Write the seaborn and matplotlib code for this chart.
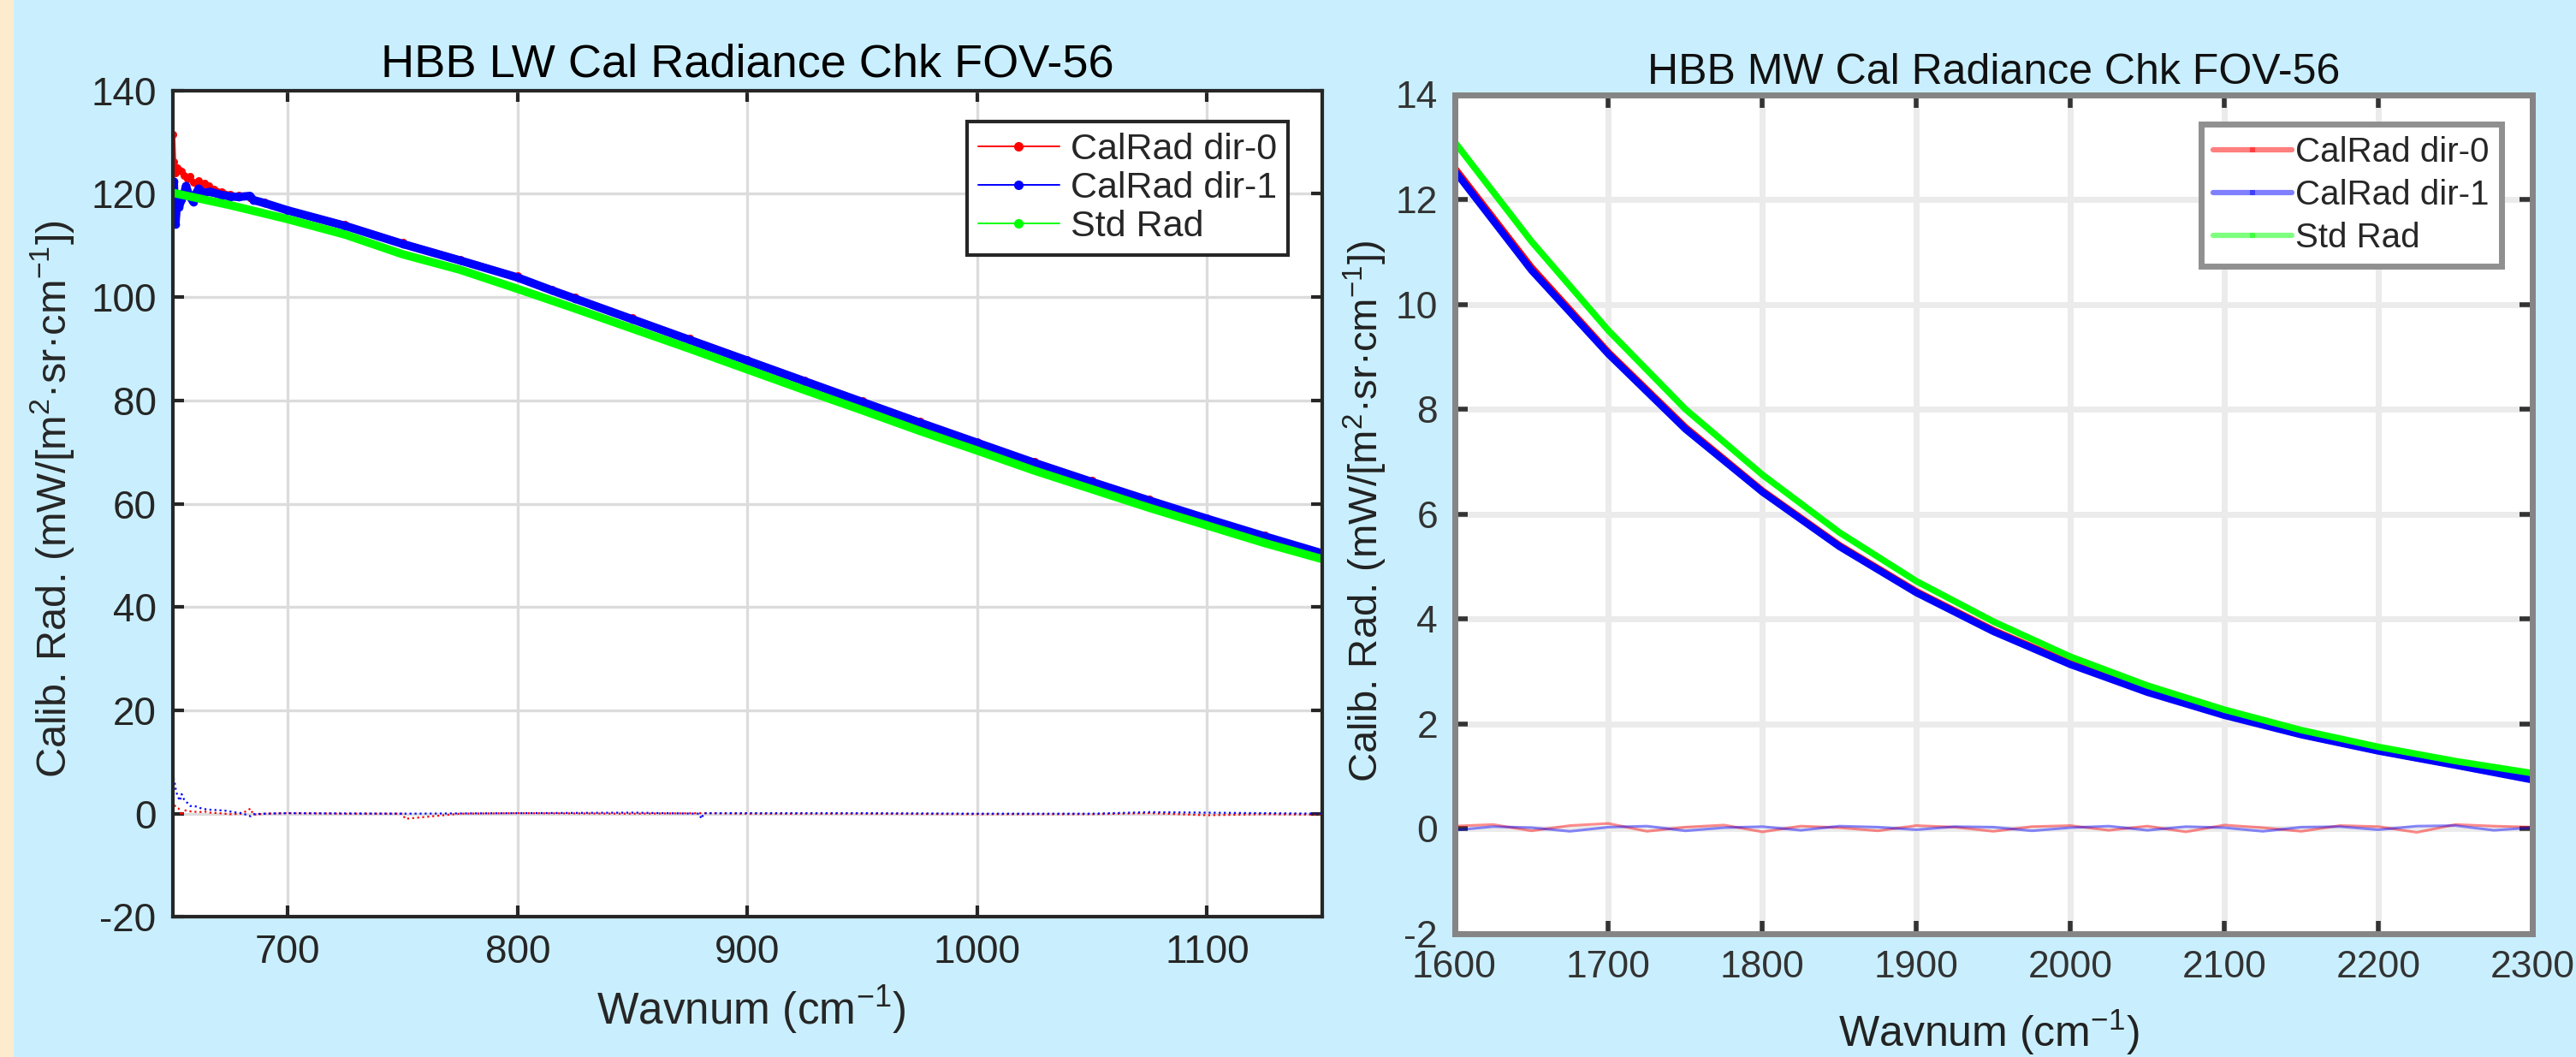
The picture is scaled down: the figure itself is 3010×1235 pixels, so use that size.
import numpy as np
import pandas as pd
import matplotlib
matplotlib.use("Agg")
import matplotlib.pyplot as plt
from matplotlib.lines import Line2D
from matplotlib.patches import Rectangle
import seaborn as sns

# ---------------- data ----------------
# LW band
lw_red_wn = [650.0, 650.4, 651.1, 652.0, 653.0, 653.8, 655.0, 656.3, 657.5, 658.8, 660.0, 661.3,
             662.5, 663.7, 665.6, 668.0, 671.1, 675.0, 678.5, 683.5, 690, 700, 725, 750, 775, 800,
             815, 825, 850, 875, 900, 925, 950, 975, 1000, 1025, 1050, 1075, 1100, 1125, 1150]
lw_red = [131.5, 126.2, 124.0, 125.0, 124.5, 124.4, 123.5, 122.9, 123.4, 122.2, 122.1, 122.6,
          121.6, 122.1, 121.5, 120.9, 120.4, 119.9, 119.7, 119.3, 118.4, 117.0, 114.1, 110.6, 107.4,
          104.1, 101.6, 100.0, 96.0, 92.0, 88.0, 84.0, 80.0, 76.0, 72.1, 68.2, 64.5, 60.9, 57.3,
          53.9, 50.6]

lw_blue_wn = [650.0, 650.4, 651.1, 652.0, 652.6, 653.8, 655.0, 655.7, 657.0, 658.8, 660.0, 661.2,
              663.0, 666.2, 671.1, 675.0, 678.5, 683.5, 685.0, 690, 700, 725, 750, 775, 800, 815,
              825, 850, 875, 900, 925, 950, 975, 1000, 1025, 1050, 1075, 1100, 1125, 1150]
lw_blue = [121.0, 122.4, 114.1, 119.5, 117.4, 119.0, 120.2, 121.5, 119.8, 118.5, 120.0, 121.0,
           120.2, 120.4, 119.8, 119.5, 119.4, 119.6, 118.8, 118.2, 116.8, 113.8, 110.3, 107.1,
           103.8, 101.3, 99.7, 95.7, 91.7, 87.7, 83.7, 79.7, 75.7, 71.8, 67.9, 64.2, 60.6, 57.1,
           53.7, 50.4]

lw_std_wn = [650, 675, 700, 725, 750, 775, 800, 825, 850, 875, 900, 925, 950, 975, 1000, 1025,
             1050, 1075, 1100, 1125, 1150]
lw_std = [120.2, 117.8, 115.1, 112.1, 108.3, 105.3, 101.6, 97.8, 93.9, 90.0, 86.0, 82.0, 78.1,
          74.1, 70.3, 66.4, 62.8, 59.2, 55.8, 52.4, 49.3]

lw_res0_wn = [650.0, 650.6, 651.3, 652.5, 653.8, 655.0, 656.3, 658.8, 661.3, 663.8, 666.3, 670,
              675, 680, 683.8, 685, 690, 700, 725, 750, 751, 775, 800, 850, 880, 900, 950, 1000,
              1050, 1075, 1100, 1125, 1150]
lw_res0 = [2.6, 1.8, 1.2, 1.0, -0.4, 0.7, 0.5, 0.4, 0.3, 0.4, 0.2, 0.1, -0.1, 0.0, 1.0, -0.2, 0.0,
           0.1, 0.0, 0.0, -1.0, 0.0, 0.1, 0.0, 0.1, 0.0, 0.0, -0.1, -0.1, 0.1, -0.3, -0.1, -0.2]

lw_res1_wn = [650.0, 650.3, 650.7, 651.0, 651.3, 651.9, 652.5, 653.1, 653.8, 655.0, 656.3, 657.5,
              660.0, 662.5, 665.0, 668.8, 672.5, 676.3, 680.0, 682.5, 683.8, 685, 690, 700, 750,
              800, 850, 879, 880, 881, 900, 950, 1000, 1050, 1075, 1100, 1125, 1150]
lw_res1 = [2.0, 6.9, 6.2, 5.4, 4.6, 3.6, 3.0, 2.5, 3.8, 2.6, 2.1, 1.5, 1.4, 1.0, 0.8, 0.7, 0.6,
           0.3, 0.1, -0.3, -0.5, -0.1, 0.0, 0.1, 0.0, 0.1, 0.2, 0.0, -1.0, 0.1, 0.1, 0.1, 0.0,
           0.0, 0.3, 0.2, 0.1, 0.0]

# MW band
mw_wn = [1600, 1650, 1700, 1750, 1800, 1850, 1900, 1950, 2000, 2050, 2100, 2150, 2200, 2250, 2300]
mw_red = [12.6, 10.7, 9.08, 7.65, 6.44, 5.40, 4.52, 3.78, 3.15, 2.62, 2.18, 1.80, 1.49, 1.22, 0.96]
mw_blue = [12.55, 10.65, 9.05, 7.62, 6.42, 5.38, 4.50, 3.76, 3.13, 2.60, 2.16, 1.79, 1.48, 1.21, 0.93]
mw_std = [13.1, 11.2, 9.5, 8.0, 6.75, 5.65, 4.72, 3.95, 3.28, 2.73, 2.27, 1.88, 1.56, 1.29, 1.06]

mw_res_wn = [1600, 1625, 1650, 1675, 1700, 1725, 1750, 1775, 1800, 1825, 1850, 1875, 1900, 1925,
             1950, 1975, 2000, 2025, 2050, 2075, 2100, 2125, 2150, 2175, 2200, 2225, 2250, 2275, 2300]
mw_res0 = [0.05, 0.08, -0.04, 0.06, 0.1, -0.05, 0.03, 0.07, -0.06, 0.05, 0.02, -0.04, 0.06, 0.03,
           -0.05, 0.04, 0.06, -0.03, 0.05, -0.06, 0.07, 0.02, -0.05, 0.06, 0.04, -0.07, 0.08, 0.05, 0.03]
mw_res1 = [-0.03, 0.04, 0.02, -0.05, 0.03, 0.05, -0.04, 0.02, 0.04, -0.03, 0.05, 0.03, -0.02,
           0.04, 0.03, -0.04, 0.02, 0.05, -0.03, 0.04, 0.02, -0.05, 0.03, 0.04, -0.02, 0.05, 0.06,
           -0.03, 0.02]

series_labels = ["CalRad dir-0", "CalRad dir-1", "Std Rad"]
lw_xticks = [700, 800, 900, 1000, 1100]
lw_yticks = [-20, 0, 20, 40, 60, 80, 100, 120, 140]
mw_xticks = [1600, 1700, 1800, 1900, 2000, 2100, 2200, 2300]
mw_yticks = [-2, 0, 2, 4, 6, 8, 10, 12, 14]

# ---------------- style ----------------
sns.set_style("white")
plt.rcParams['font.family'] = ['Liberation Sans', 'DejaVu Sans']
plt.rcParams['mathtext.fontset'] = 'custom'
plt.rcParams['mathtext.rm'] = 'Liberation Sans'
plt.rcParams['mathtext.it'] = 'Liberation Sans:italic'
plt.rcParams['mathtext.bf'] = 'Liberation Sans:bold'
plt.rcParams['mathtext.default'] = 'regular'
plt.rcParams['axes.unicode_minus'] = False

BG = '#C9EFFE'
DARK = '#262626'
RED, BLUE, GREEN = '#FF0000', '#0000FF', '#00FF00'

W, H = 3010, 1235
fig = plt.figure(figsize=(W / 100, H / 100), dpi=100, facecolor=BG)
fig.patches.append(Rectangle((0, 0), 16 / W, 1, transform=fig.transFigure,
                             facecolor='#FDEBCD', edgecolor='none', zorder=0))

ax1 = fig.add_axes([202 / W, 1 - 1071.4 / H, (1544.7 - 202) / W, (1071.4 - 105.8) / H])
ax2 = fig.add_axes([1699.5 / W, 1 - 1090.8 / H, (2959 - 1699.5) / W, (1090.8 - 110.5) / H])

ylab = r"Calib. Rad. (mW/[m$^{2}$·sr·cm$^{-1}$])"
xlab = r"Wavnum (cm$^{-1}$)"

# ---------------- LW panel ----------------
ax1.set_facecolor('white')
sns.lineplot(x=lw_res0_wn, y=lw_res0, ax=ax1, color=RED, linewidth=1.6, linestyle=':',
             estimator=None, sort=False)
sns.lineplot(x=lw_res1_wn, y=lw_res1, ax=ax1, color=BLUE, linewidth=1.6, linestyle=':',
             estimator=None, sort=False)
sns.lineplot(x=lw_red_wn, y=lw_red, ax=ax1, color=RED, linewidth=4, marker='o', markersize=6.5,
             markeredgewidth=0, estimator=None, sort=False)
sns.lineplot(x=lw_blue_wn, y=lw_blue, ax=ax1, color=BLUE, linewidth=7, marker='o', markersize=7,
             markeredgewidth=0, estimator=None, sort=False)
sns.lineplot(x=lw_std_wn, y=lw_std, ax=ax1, color=GREEN, linewidth=7,
             estimator=None, sort=False)

ax1.set_xlim(650, 1150)
ax1.set_ylim(-20, 140)
ax1.set_xticks(lw_xticks)
ax1.set_yticks(lw_yticks)
ax1.grid(True, color='#DCDCDC', linewidth=2.4)
ax1.set_axisbelow(True)
for s in ax1.spines.values():
    s.set_color(DARK)
    s.set_linewidth(3)
ax1.tick_params(direction='in', length=9.5, width=3, colors=DARK, labelsize=33, pad=14,
                top=True, right=True, bottom=True, left=True)
ax1.set_title("HBB LW Cal Radiance Chk FOV-56", fontsize=39, color='black', pad=12)
ax1.set_xlabel(xlab, fontsize=37, color=DARK)
ax1.set_ylabel(ylab, fontsize=35, color=DARK)
ax1.xaxis.set_label_coords(0.503, -0.081)
ax1.yaxis.set_label_coords(-0.084, 0.506)

h1 = [Line2D([], [], color=c, lw=1.4, marker='o', markersize=7) for c in (RED, BLUE, GREEN)]
leg1 = ax1.legend(h1, series_labels, loc='upper right', bbox_to_anchor=(0.9702, 0.9627),
                  borderaxespad=0, fontsize=31, frameon=True, fancybox=False, framealpha=1,
                  edgecolor=DARK, handlelength=2.2, handletextpad=0.3, labelspacing=0.12,
                  borderpad=0.3)
leg1.get_frame().set_linewidth(3)

# ---------------- MW panel ----------------
ax2.set_facecolor('white')
sns.lineplot(x=mw_res_wn, y=mw_res0, ax=ax2, color=RED, linewidth=2.2, alpha=0.45,
             estimator=None, sort=False)
sns.lineplot(x=mw_res_wn, y=mw_res1, ax=ax2, color=BLUE, linewidth=2.2, alpha=0.45,
             estimator=None, sort=False)
sns.lineplot(x=mw_wn, y=mw_red, ax=ax2, color=RED, linewidth=6, estimator=None, sort=False)
sns.lineplot(x=mw_wn, y=mw_blue, ax=ax2, color=BLUE, linewidth=6, estimator=None, sort=False)
sns.lineplot(x=mw_wn, y=mw_std, ax=ax2, color=GREEN, linewidth=5.5, estimator=None, sort=False)

ax2.set_xlim(1600, 2300)
ax2.set_ylim(-2, 14)
ax2.set_xticks(mw_xticks)
ax2.set_yticks(mw_yticks)
ax2.grid(True, color='#EBEBEB', linewidth=5)
ax2.set_axisbelow(True)
for s in ax2.spines.values():
    s.set_color('#858585')
    s.set_linewidth(5)
ax2.tick_params(direction='in', length=11, width=4, colors='#333333', labelsize=32, pad=14,
                top=True, right=True, bottom=True, left=True)
ax2.set_title("HBB MW Cal Radiance Chk FOV-56", fontsize=36, color='#111111', pad=9)
ax2.set_xlabel(xlab, fontsize=36, color='#222222')
ax2.set_ylabel(ylab, fontsize=34, color='#222222')
ax2.xaxis.set_label_coords(0.496, -0.089)
ax2.yaxis.set_label_coords(-0.061, 0.503)

h2 = [Line2D([], [], color=c, lw=4.5, alpha=0.5, marker='s', markersize=5,
             markerfacecolor=c, markeredgewidth=0) for c in (RED, BLUE, GREEN)]
leg2 = ax2.legend(h2, series_labels, loc='upper right', bbox_to_anchor=(0.9714, 0.9652),
                  borderaxespad=0, fontsize=29, frameon=True, fancybox=False, framealpha=1,
                  edgecolor='#909090', handlelength=2.3, handletextpad=0.1, labelspacing=0.3,
                  borderpad=0.35)
leg2.get_frame().set_linewidth(5)

fig.savefig("out.png", dpi=100, facecolor=BG)
